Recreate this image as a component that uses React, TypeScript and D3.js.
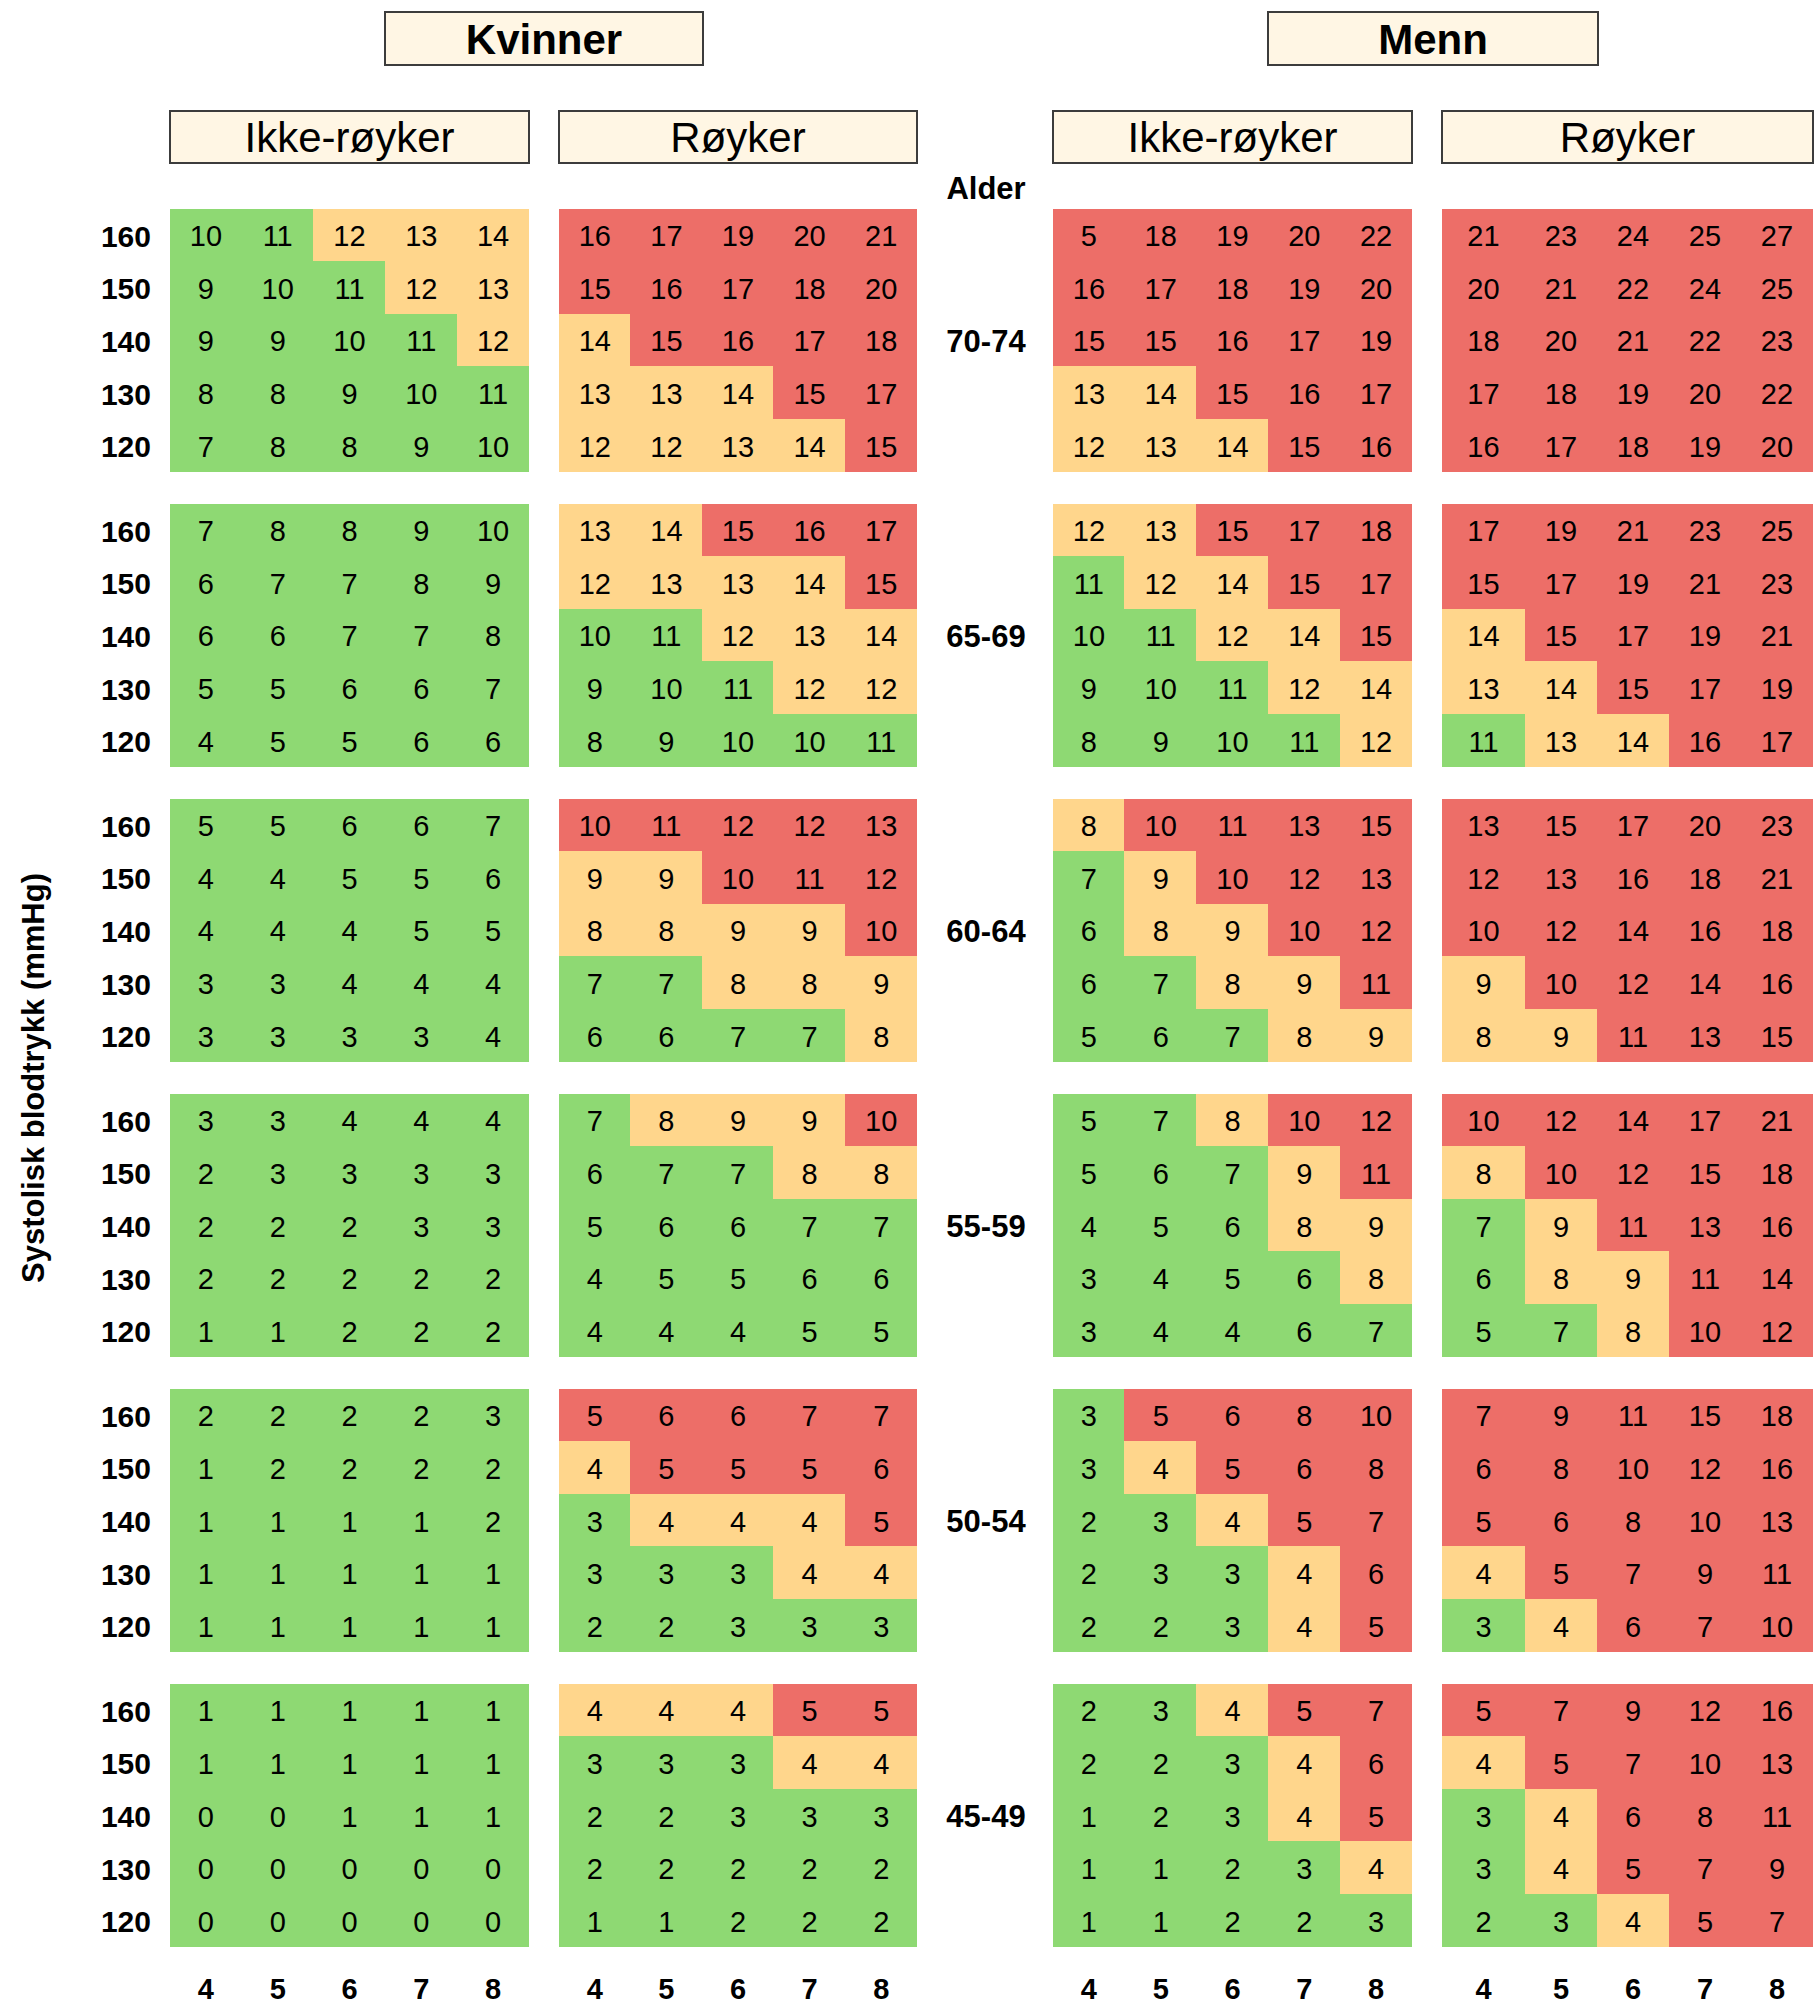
import React, { useRef, useEffect } from 'react';
import * as d3 from 'd3';

// Age groups (top to bottom) and the two axes of each small grid
const ages = ['70-74', '65-69', '60-64', '55-59', '50-54', '45-49'];
const systolic = ['160', '150', '140', '130', '120'];
const cholesterol = ['4', '5', '6', '7', '8'];

// Risk cut-offs per age group: [orange from, red from]
const cutoffs = [[12, 15], [12, 15], [8, 10], [8, 10], [4, 5], [4, 5]];

// Values per age group, rows 160 -> 120, columns 4 -> 8
const womenNonSmoker = [
  [[10, 11, 12, 13, 14], [9, 10, 11, 12, 13], [9, 9, 10, 11, 12], [8, 8, 9, 10, 11], [7, 8, 8, 9, 10]],
  [[7, 8, 8, 9, 10], [6, 7, 7, 8, 9], [6, 6, 7, 7, 8], [5, 5, 6, 6, 7], [4, 5, 5, 6, 6]],
  [[5, 5, 6, 6, 7], [4, 4, 5, 5, 6], [4, 4, 4, 5, 5], [3, 3, 4, 4, 4], [3, 3, 3, 3, 4]],
  [[3, 3, 4, 4, 4], [2, 3, 3, 3, 3], [2, 2, 2, 3, 3], [2, 2, 2, 2, 2], [1, 1, 2, 2, 2]],
  [[2, 2, 2, 2, 3], [1, 2, 2, 2, 2], [1, 1, 1, 1, 2], [1, 1, 1, 1, 1], [1, 1, 1, 1, 1]],
  [[1, 1, 1, 1, 1], [1, 1, 1, 1, 1], [0, 0, 1, 1, 1], [0, 0, 0, 0, 0], [0, 0, 0, 0, 0]],
];
const womenSmoker = [
  [[16, 17, 19, 20, 21], [15, 16, 17, 18, 20], [14, 15, 16, 17, 18], [13, 13, 14, 15, 17], [12, 12, 13, 14, 15]],
  [[13, 14, 15, 16, 17], [12, 13, 13, 14, 15], [10, 11, 12, 13, 14], [9, 10, 11, 12, 12], [8, 9, 10, 10, 11]],
  [[10, 11, 12, 12, 13], [9, 9, 10, 11, 12], [8, 8, 9, 9, 10], [7, 7, 8, 8, 9], [6, 6, 7, 7, 8]],
  [[7, 8, 9, 9, 10], [6, 7, 7, 8, 8], [5, 6, 6, 7, 7], [4, 5, 5, 6, 6], [4, 4, 4, 5, 5]],
  [[5, 6, 6, 7, 7], [4, 5, 5, 5, 6], [3, 4, 4, 4, 5], [3, 3, 3, 4, 4], [2, 2, 3, 3, 3]],
  [[4, 4, 4, 5, 5], [3, 3, 3, 4, 4], [2, 2, 3, 3, 3], [2, 2, 2, 2, 2], [1, 1, 2, 2, 2]],
];
const menNonSmoker = [
  [[5, 18, 19, 20, 22], [16, 17, 18, 19, 20], [15, 15, 16, 17, 19], [13, 14, 15, 16, 17], [12, 13, 14, 15, 16]],
  [[12, 13, 15, 17, 18], [11, 12, 14, 15, 17], [10, 11, 12, 14, 15], [9, 10, 11, 12, 14], [8, 9, 10, 11, 12]],
  [[8, 10, 11, 13, 15], [7, 9, 10, 12, 13], [6, 8, 9, 10, 12], [6, 7, 8, 9, 11], [5, 6, 7, 8, 9]],
  [[5, 7, 8, 10, 12], [5, 6, 7, 9, 11], [4, 5, 6, 8, 9], [3, 4, 5, 6, 8], [3, 4, 4, 6, 7]],
  [[3, 5, 6, 8, 10], [3, 4, 5, 6, 8], [2, 3, 4, 5, 7], [2, 3, 3, 4, 6], [2, 2, 3, 4, 5]],
  [[2, 3, 4, 5, 7], [2, 2, 3, 4, 6], [1, 2, 3, 4, 5], [1, 1, 2, 3, 4], [1, 1, 2, 2, 3]],
];
const menSmoker = [
  [[21, 23, 24, 25, 27], [20, 21, 22, 24, 25], [18, 20, 21, 22, 23], [17, 18, 19, 20, 22], [16, 17, 18, 19, 20]],
  [[17, 19, 21, 23, 25], [15, 17, 19, 21, 23], [14, 15, 17, 19, 21], [13, 14, 15, 17, 19], [11, 13, 14, 16, 17]],
  [[13, 15, 17, 20, 23], [12, 13, 16, 18, 21], [10, 12, 14, 16, 18], [9, 10, 12, 14, 16], [8, 9, 11, 13, 15]],
  [[10, 12, 14, 17, 21], [8, 10, 12, 15, 18], [7, 9, 11, 13, 16], [6, 8, 9, 11, 14], [5, 7, 8, 10, 12]],
  [[7, 9, 11, 15, 18], [6, 8, 10, 12, 16], [5, 6, 8, 10, 13], [4, 5, 7, 9, 11], [3, 4, 6, 7, 10]],
  [[5, 7, 9, 12, 16], [4, 5, 7, 10, 13], [3, 4, 6, 8, 11], [3, 4, 5, 7, 9], [2, 3, 4, 5, 7]],
];

// The printed "5" in men non-smoker 70-74 / 160 / 4 is still coloured red
const levelOverrides = [{ panel: 2, age: 0, row: 0, col: 0, level: 2 }];

const sexLabels = ['Kvinner', 'Menn'];
const smokeLabels = ['Ikke-røyker', 'Røyker', 'Ikke-røyker', 'Røyker'];

const panels = [womenNonSmoker, womenSmoker, menNonSmoker, menSmoker];
const levelColors = ['#8ed973', '#ffd68c', '#ed6e68'];

const W = 1814;
const H = 2005;
const FONT = "'Liberation Sans', Arial, Helvetica, sans-serif";

const App: React.FC = () => {
  const svgRef = useRef<SVGSVGElement>(null);

  useEffect(() => {
    document.body.style.margin = '0';
    if (!svgRef.current) return;
    const svg = d3.select(svgRef.current);
    svg.selectAll('*').remove();

    // panel x extents; the last block has a wider first column
    const panelX: [number, number][] = [[170, 529], [559, 917], [1053, 1412], [1442, 1813]];
    const firstColExtra = [0, 0, 0, 11];

    const yAge = d3.scaleBand<string>()
      .domain(ages)
      .range([209, 1947])
      .paddingInner(0.1085)
      .paddingOuter(0);

    const level = (v: number, a: number) => {
      const [o, r] = cutoffs[a];
      return v >= r ? 2 : v >= o ? 1 : 0;
    };

    const g = svg.append('g').style('font-family', FONT);

    // top headers
    const sexBoxes = [
      { x0: 385, x1: 703 },
      { x0: 1268, x1: 1598 },
    ];
    sexBoxes.forEach((b, i) => {
      g.append('rect')
        .attr('x', b.x0).attr('y', 12)
        .attr('width', b.x1 - b.x0).attr('height', 53)
        .attr('fill', '#fff6e4')
        .attr('stroke', '#3c3c3c').attr('stroke-width', 2);
      g.append('text')
        .attr('x', (b.x0 + b.x1) / 2).attr('y', 39)
        .attr('text-anchor', 'middle').attr('dominant-baseline', 'central')
        .style('font-size', '42px').style('font-weight', 'bold')
        .text(sexLabels[i]);
    });

    panelX.forEach(([x0, x1], p) => {
      g.append('rect')
        .attr('x', x0).attr('y', 111)
        .attr('width', x1 - x0).attr('height', 52)
        .attr('fill', '#fff6e4')
        .attr('stroke', '#3c3c3c').attr('stroke-width', 2);
      g.append('text')
        .attr('x', (x0 + x1) / 2).attr('y', 137)
        .attr('text-anchor', 'middle').attr('dominant-baseline', 'central')
        .style('font-size', '42px')
        .text(smokeLabels[p]);
    });

    // grids
    panels.forEach((data, p) => {
      const [px0, px1] = panelX[p];
      const x = d3.scaleBand<string>().domain(cholesterol).range([px0 + firstColExtra[p], px1]);
      const colL = (c: number) => (c === 0 ? px0 : Math.floor(x(cholesterol[c])!));
      const colR = (c: number) => (c === 4 ? px1 : Math.floor(x(cholesterol[c + 1])!));
      const colMid = (c: number) => (c === 0 ? (px0 + x(cholesterol[1])!) / 2 : x(cholesterol[c])! + x.bandwidth() / 2);

      ages.forEach((age, a) => {
        const top = yAge(age)!;
        const bottom = top + yAge.bandwidth();
        const y = d3.scaleBand<string>().domain(systolic).range([top, bottom]);
        const rowT = (r: number) => Math.floor(y(systolic[r])!);
        const rowB = (r: number) => (r === 4 ? bottom : Math.floor(y(systolic[r + 1])!));

        const cells = data[a].flatMap((row, r) => row.map((v, c) => {
          const ov = levelOverrides.find(o => o.panel === p && o.age === a && o.row === r && o.col === c);
          return { r, c, v, lvl: ov ? ov.level : level(v, a) };
        }));
        const cg = g.append('g');
        cg.selectAll('rect')
          .data(cells)
          .join('rect')
          .attr('x', d => colL(d.c))
          .attr('y', d => rowT(d.r))
          .attr('width', d => colR(d.c) - colL(d.c))
          .attr('height', d => rowB(d.r) - rowT(d.r))
          .attr('fill', d => levelColors[d.lvl])
          .attr('shape-rendering', 'crispEdges');
        cg.selectAll('text')
          .data(cells)
          .join('text')
          .attr('x', d => colMid(d.c))
          .attr('y', d => y(systolic[d.r])! + y.bandwidth() / 2 + 1)
          .attr('text-anchor', 'middle').attr('dominant-baseline', 'central')
          .style('font-size', '29px')
          .attr('fill', '#000')
          .text(d => String(d.v));

        // systolic row labels (left only)
        if (p === 0) {
          g.append('g').selectAll('text')
            .data(systolic)
            .join('text')
            .attr('x', 151)
            .attr('y', d => y(d)! + y.bandwidth() / 2 + 1)
            .attr('text-anchor', 'end').attr('dominant-baseline', 'central')
            .style('font-size', '30px').style('font-weight', 'bold')
            .text(d => d);
        }
        // age label between the sexes
        if (p === 1) {
          g.append('text')
            .attr('x', 986)
            .attr('y', y('140')! + y.bandwidth() / 2 + 1)
            .attr('text-anchor', 'middle').attr('dominant-baseline', 'central')
            .style('font-size', '31px').style('font-weight', 'bold')
            .text(age);
        }
      });

      // cholesterol labels at the bottom
      g.append('g').selectAll('text')
        .data(cholesterol)
        .join('text')
        .attr('x', (_d, i) => colMid(i))
        .attr('y', 1989)
        .attr('text-anchor', 'middle').attr('dominant-baseline', 'central')
        .style('font-size', '29px').style('font-weight', 'bold')
        .text(d => d);
    });

    g.append('text')
      .attr('x', 986).attr('y', 188)
      .attr('text-anchor', 'middle').attr('dominant-baseline', 'central')
      .style('font-size', '31px').style('font-weight', 'bold')
      .text('Alder');

    g.append('text')
      .attr('transform', `translate(33,${(209 + 1947) / 2}) rotate(-90)`)
      .attr('text-anchor', 'middle').attr('dominant-baseline', 'central')
      .style('font-size', '31px').style('font-weight', 'bold')
      .text('Systolisk blodtrykk (mmHg)');
  }, []);

  return (
    <svg
      ref={svgRef}
      width={W}
      height={H}
      viewBox={`0 0 ${W} ${H}`}
      style={{ display: 'block', position: 'absolute', left: 0, top: 0, background: '#fff' }}
    />
  );
};

export default App;
